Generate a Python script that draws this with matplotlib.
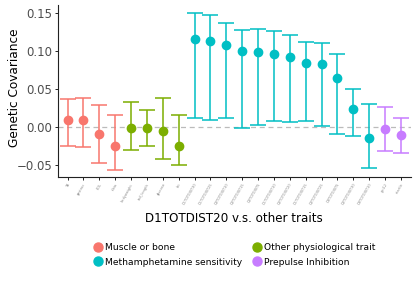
import matplotlib
matplotlib.use("Agg")
import matplotlib.pyplot as plt
from matplotlib.lines import Line2D

traits = ["TA", "gastroc", "EDL", "tibia",
          "bodyweight", "tail_length", "glucose", "fat",
          "D1TOTDIST30", "D1TOTDIST25", "D2TOTDIST10", "D2TOTDIST15",
          "D2TOTDIST5", "D1TOTDIST10", "D2TOTDIST20", "D1TOTDIST15",
          "D2TOTDIST25", "D3TOTDIST5", "D2TOTDIST30", "D3TOTDIST10",
          "ppi12", "startle"]
groups = ["Muscle or bone"] * 4 + ["Other physiological trait"] * 4 + \
         ["Methamphetamine sensitivity"] * 12 + ["Prepulse Inhibition"] * 2
estimate = [0.009, 0.009, -0.009, -0.025,
            -0.001, -0.002, -0.006, -0.025,
            0.115, 0.113, 0.107, 0.099, 0.098, 0.095, 0.092, 0.084,
            0.082, 0.064, 0.024, -0.015,
            -0.003, -0.011]
upper = [0.037, 0.038, 0.029, 0.015,
         0.033, 0.022, 0.038, 0.015,
         0.150, 0.147, 0.136, 0.127, 0.129, 0.126, 0.120, 0.111,
         0.110, 0.096, 0.049, 0.030,
         0.026, 0.011]
lower = [-0.025, -0.027, -0.047, -0.057,
         -0.030, -0.025, -0.043, -0.050,
         0.011, 0.009, 0.012, -0.002, 0.002, 0.008, 0.006, 0.008,
         0.001, -0.010, -0.012, -0.054,
         -0.032, -0.035]

group_order = ["Muscle or bone", "Methamphetamine sensitivity",
               "Other physiological trait", "Prepulse Inhibition"]
colors = {"Muscle or bone": "#F8766D",
          "Other physiological trait": "#7CAE00",
          "Methamphetamine sensitivity": "#00BFC4",
          "Prepulse Inhibition": "#C77CFF"}

fig = plt.figure(figsize=(4.15, 2.91), dpi=100)
ax = fig.add_axes([58 / 415, 1 - 177 / 291, (410.5 - 58) / 415, (177 - 5) / 291])

x = list(range(len(traits)))
for i in x:
    c = colors[groups[i]]
    ax.errorbar(i, estimate[i],
                yerr=[[estimate[i] - lower[i]], [upper[i] - estimate[i]]],
                fmt='o', color=c, ecolor=c, elinewidth=1.1, capsize=5.5,
                capthick=1.1, markersize=6, zorder=3)

ax.axhline(0, color="#BBBBBB", linestyle=(0, (4, 3)), linewidth=0.9, zorder=1)
ax.set_xlim(-0.6, len(traits) - 0.4)
ax.set_ylim(-0.066, 0.160)
ax.set_yticks([-0.05, 0.00, 0.05, 0.10, 0.15])
ax.set_yticklabels(["\u22120.05", "0.00", "0.05", "0.10", "0.15"])
ax.set_xticks(x)
ax.set_xticklabels(traits, rotation=60, ha="right", rotation_mode="anchor",
                   fontsize=2.5, color="#888888")
ax.tick_params(axis="y", labelsize=8.5, labelcolor="#4D4D4D", length=2.5,
               width=0.6, pad=1.5)
ax.tick_params(axis="x", length=2.5, width=0.6, pad=1.5)
for s in ["top", "right"]:
    ax.spines[s].set_visible(False)
for s in ["left", "bottom"]:
    ax.spines[s].set_linewidth(0.8)
    ax.spines[s].set_color("#222222")

fig.text(14 / 415, 1 - 88 / 291, "Genetic Covariance", rotation=90,
         ha="center", va="center", fontsize=8.7)
fig.text((58 + 410.5) / 2 / 415, 1 - 219 / 291, "D1TOTDIST20 v.s. other traits",
         ha="center", va="center", fontsize=8.6)

handles = [Line2D([0], [0], marker='o', linestyle='none', markersize=6.5,
                  color=colors[g]) for g in group_order]
fig.legend(handles, group_order, loc="center", ncol=2,
           bbox_to_anchor=(234 / 415, 1 - 255 / 291), frameon=False, fontsize=6.6,
           handletextpad=0.2, columnspacing=1.0, labelspacing=0.55,
           handlelength=1.2)

fig.savefig("out.png", dpi=100)
